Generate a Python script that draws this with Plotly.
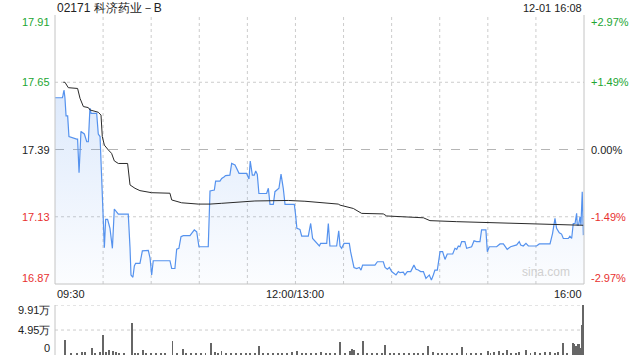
import plotly.graph_objects as go

# ---------------- data ----------------
title_text = "02171 科济药业－B"
date_text = "12-01 16:08"
prev_close = 17.39

price_min = [0, 4.6, 5.0, 5.6, 6.2, 6.9, 7.9, 8.7, 13.5, 14.1, 15.0, 16.2, 18.3, 19.8, 20.8, 21.8, 22.5, 26.0,
             27.0, 28.1, 30.8, 31.6, 32.8, 34.3, 35.8, 37.0, 39.5, 45.7, 46.8, 47.4, 48.6, 49.5, 50.3, 53.0,
             54.5, 58.2, 59.3, 60.3, 61.3, 71.7, 72.8, 74.8, 75.9, 77.3, 78.6, 80.0, 84.2, 86.9, 88.4, 89.8,
             95.6, 96.7, 99.4, 100.2, 102.9, 104.0, 105.6, 106.4, 109.1, 110.2, 112.3, 114.8, 119.5, 121.0,
             121.8, 123.1, 124.3, 125.2, 126.2, 127.2, 132.0, 133.1, 134.1, 136.2, 137.2, 138.9, 139.7, 141.0,
             142.4, 143.5, 149.3, 150.1, 150.9, 152.8, 153.9, 158.0, 159.5, 160.7, 163.2, 164.9, 165.7, 169.5,
             170.5, 171.5, 175.7, 177.0, 177.8, 178.8, 180.3, 183.6, 184.4, 186.5, 188.2, 189.8, 190.9, 191.9,
             199.6, 201.1, 204.8, 205.9, 207.3, 208.6, 210.0, 212.7, 214.2, 215.2, 217.3, 218.3, 219.8, 221.9,
             223.9, 225.2, 226.6, 228.1, 229.8, 231.4, 233.5, 234.8, 236.0, 237.0, 238.5, 240.2, 241.8, 243.3,
             244.7, 248.1, 249.5, 250.6, 251.6, 252.6, 253.7, 255.7, 256.8, 257.8, 259.9, 261.4, 263.0, 265.1,
             266.1, 268.8, 269.7, 270.9, 275.5, 277.6, 279.7, 282.1, 284.2, 288.0, 289.6, 290.5, 292.1, 293.8,
             295.3, 300.4, 302.1, 308.8, 310.4, 311.9, 312.9, 314.6, 316.0, 317.1, 320.2, 321.2, 322.3, 323.3,
             324.4, 325.4, 325.8, 326.6, 327.5, 328.1, 328.9, 329.6]
price_val = [17.59, 17.59, 17.60, 17.62, 17.59, 17.52, 17.52, 17.44, 17.43, 17.43, 17.30, 17.46, 17.45, 17.42,
             17.42, 17.55, 17.53, 17.53, 17.45, 17.44, 17.01, 17.12, 17.12, 17.085, 17.008, 17.16, 17.14, 17.14,
             17.01, 16.905, 16.896, 16.94, 16.95, 16.95, 16.998, 17.00, 16.97, 16.905, 16.96, 16.96, 16.93,
             16.93, 17.005, 17.008, 17.053, 17.057, 17.057, 17.079, 17.072, 17.014, 17.014, 17.23, 17.233,
             17.268, 17.268, 17.278, 17.285, 17.289, 17.291, 17.336, 17.33, 17.298, 17.298, 17.276, 17.345,
             17.291, 17.291, 17.307, 17.294, 17.22, 17.22, 17.24, 17.178, 17.178, 17.227, 17.237, 17.24, 17.295,
             17.24, 17.178, 17.178, 17.137, 17.085, 17.081, 17.055, 17.055, 17.104, 17.046, 17.030, 17.017,
             17.027, 17.027, 17.104, 17.017, 17.017, 17.076, 17.017, 17.008, 17.027, 17.027, 16.995, 16.934,
             16.93, 16.934, 16.924, 16.943, 16.943, 16.956, 16.956, 16.934, 16.927, 16.934, 16.918, 16.905,
             16.918, 16.914, 16.916, 16.905, 16.918, 16.918, 16.943, 16.927, 16.924, 16.918, 16.918, 16.892,
             16.905, 16.885, 16.905, 16.924, 16.924, 16.995, 16.995, 16.965, 16.986, 16.986, 17.008, 17.004,
             17.017, 17.014, 17.034, 17.034, 17.008, 17.01, 17.014, 17.037, 17.034, 17.034, 17.079, 17.079,
             16.995, 17.014, 17.014, 17.025, 17.025, 17.004, 17.014, 17.021, 17.034, 17.021, 17.017, 17.027,
             17.017, 17.017, 17.025, 17.025, 17.066, 17.124, 17.085, 17.068, 17.063, 17.046, 17.046, 17.055,
             17.046, 17.104, 17.104, 17.143, 17.098, 17.098, 17.13, 17.098, 17.227, 17.059]

avg_min = [5.2, 6.2, 8.3, 14.1, 15.6, 17.7, 20.8, 21.8, 27.0, 28.7, 29.5, 30.8, 33.3, 35.3, 37.0, 39.5, 45.3,
           46.8, 49.9, 53.0, 60.3, 71.7, 72.8, 79.0, 89.4, 96.7, 104.0, 116.4, 124.7, 145.5, 155.9, 176.7,
           177.8, 186.1, 191.3, 204.8, 206.9, 229.8, 233.9, 250.6, 271.3, 292.1, 312.9, 329.6]
avg_val = [17.65, 17.65, 17.629, 17.626, 17.588, 17.556, 17.552, 17.543, 17.534, 17.523, 17.44, 17.407,
           17.388, 17.375, 17.346, 17.336, 17.336, 17.253, 17.24, 17.231, 17.223, 17.221, 17.195, 17.184,
           17.179, 17.179, 17.182, 17.188, 17.191, 17.193, 17.19, 17.179, 17.175, 17.162, 17.143, 17.141,
           17.133, 17.126, 17.115, 17.111, 17.107, 17.104, 17.101, 17.097]

vol_min = [6.2, 10, 14, 17, 19, 23, 25, 28, 30, 32, 34, 36, 38, 40, 43, 47.8, 50, 52, 54.7, 57, 60, 63, 66, 69,
           73.4, 76, 79.7, 82, 85, 88, 91, 94, 97.7, 100, 102, 104, 107, 110, 113, 116, 119, 122, 125, 127.5,
           130, 133, 136, 139, 142, 145, 148, 151.4, 154, 157, 160, 163, 166, 169, 172, 175, 178.2, 181,
           184.4, 185.6, 187, 189, 192.3, 195, 198, 201, 204, 205.9, 209, 212, 215, 218, 221, 224, 227, 230,
           232.9, 236, 239, 242, 245, 248, 251, 254.3, 257, 260, 263, 266, 270.3, 272, 274, 277.2, 280,
           282.2, 285, 288, 290, 294.2, 297, 300, 303, 306, 309, 312, 314, 317.1, 320, 323.3, 324.4, 325.4,
           326.4, 327.4, 328.5, 329.2, 330]
vol_val = [2.9, 0.4, 0.3, 0.5, 0.5, 1.3, 0.4, 0.6, 3.9, 0.6, 0.9, 0.7, 0.5, 0.3, 0.3, 6.3, 0.4, 0.3, 1.0, 0.3,
           0.2, 0.3, 0.2, 0.3, 2.8, 0.3, 1.2, 0.3, 0.2, 0.3, 0.4, 0.3, 2.4, 0.6, 0.3, 0.8, 0.3, 0.3, 0.2,
           0.3, 0.2, 0.3, 0.2, 1.8, 0.4, 0.3, 0.3, 0.2, 0.4, 0.3, 0.5, 0.8, 0.3, 0.3, 0.2, 0.4, 0.5, 0.3,
           0.4, 0.3, 2.5, 0.3, 0.8, 1.2, 1.0, 0.4, 2.7, 0.3, 0.3, 0.4, 0.3, 2.0, 0.3, 0.2, 0.4, 0.3, 0.3,
           0.4, 0.3, 0.4, 1.8, 0.5, 0.3, 0.3, 0.4, 0.3, 0.3, 1.6, 0.3, 0.4, 0.3, 0.4, 0.8, 0.3, 0.5, 0.8,
           0.3, 1.0, 0.4, 0.3, 0.5, 1.0, 0.4, 0.5, 0.4, 0.6, 0.5, 0.4, 0.6, 2.3, 0.3, 2.3, 2.1, 1.8, 2.1,
           2.1, 1.4, 5.9, 9.91]

y_ticks = [17.91, 17.65, 17.39, 17.13, 16.87]
y_tick_text = ["17.91", "17.65", "17.39", "17.13", "16.87"]
pct_text = ["+2.97%", "+1.49%", "0.00%", "-1.49%", "-2.97%"]
x_grid = [30, 60, 90, 120, 150, 180, 210, 240, 270, 300]
x_labels = [(0, "09:30"), (150, "12:00/13:00"), (330, "16:00")]
vol_ticks = [9.91, 4.95, 0]
vol_tick_text = ["9.91万", "4.95万", "0"]

# ---------------- styles ----------------
GREEN = "#22a632"
RED = "#e8312f"
BLACK = "#222222"
GRID = "#cccccc"
BORDER = "#c4c4c4"
FONT = "Liberation Sans, Arial, sans-serif"

fig = go.Figure()

fig.add_trace(go.Scatter(
    x=price_min, y=price_val, mode="lines",
    line=dict(color="#5592ee", width=1.2),
    fill="tozeroy",
    fillgradient=dict(type="vertical",
                      colorscale=[[0, "rgba(85,146,238,0.02)"], [1, "rgba(85,146,238,0.20)"]],
                      start=16.87, stop=17.62),
    xaxis="x", yaxis="y", hoverinfo="skip"))

fig.add_trace(go.Scatter(
    x=avg_min, y=avg_val, mode="lines",
    line=dict(color="#2a2a2a", width=1),
    xaxis="x", yaxis="y", hoverinfo="skip"))

fig.add_trace(go.Bar(
    x=vol_min, y=vol_val, width=0.6,
    marker=dict(color="#666666", line=dict(width=0)),
    xaxis="x2", yaxis="y2", hoverinfo="skip"))

main_bottom = 0.2088
vol_top = 0.147

fig.update_layout(
    width=640, height=360,
    margin=dict(l=55, r=56, t=15, b=5),
    paper_bgcolor="white", plot_bgcolor="rgba(0,0,0,0)",
    showlegend=False,
    font=dict(family=FONT, size=11, color="#222"),
    xaxis=dict(domain=[0, 1], range=[0, 330], anchor="y", showgrid=False, zeroline=False,
               showticklabels=False, showline=False, fixedrange=True),
    yaxis=dict(domain=[main_bottom, 1], range=[16.87, 17.91], showgrid=False, zeroline=False,
               showticklabels=False, showline=False),
    xaxis2=dict(domain=[0, 1], range=[0, 330.4], anchor="y2", showgrid=False, zeroline=False,
                showticklabels=False, showline=False),
    yaxis2=dict(domain=[0, vol_top], range=[0, 9.91], showgrid=False, zeroline=False,
                showticklabels=False, showline=False),
    bargap=0,
)

shapes = []
# vertical grid in main panel
for gx in x_grid:
    shapes.append(dict(type="line", xref="x", yref="y domain", x0=gx, x1=gx, y0=0, y1=1,
                       line=dict(color=GRID, width=1, dash="dot"), layer="below"))
# horizontal grid in main panel
for v in y_ticks[1:-1]:
    if v == prev_close:
        shapes.append(dict(type="line", xref="x domain", yref="y", x0=0, x1=1, y0=v, y1=v,
                           line=dict(color="#b5b5b5", width=1, dash="dash"), layer="below"))
    else:
        shapes.append(dict(type="line", xref="x domain", yref="y", x0=0, x1=1, y0=v, y1=v,
                           line=dict(color=GRID, width=1, dash="dot"), layer="below"))
# borders main
shapes.append(dict(type="line", xref="x domain", yref="y domain", x0=0, x1=0, y0=0, y1=1,
                   line=dict(color=BORDER, width=1)))
shapes.append(dict(type="line", xref="x domain", yref="y domain", x0=1, x1=1, y0=0, y1=1,
                   line=dict(color=BORDER, width=1)))
shapes.append(dict(type="line", xref="x domain", yref="y domain", x0=0, x1=1, y0=0, y1=0,
                   line=dict(color=BORDER, width=1)))
# volume grid
for v in vol_ticks[:-1]:
    shapes.append(dict(type="line", xref="x2 domain", yref="y2", x0=0, x1=1, y0=v, y1=v,
                       line=dict(color=GRID, width=1, dash="dot"), layer="below"))
shapes.append(dict(type="line", xref="x2 domain", yref="y2 domain", x0=0, x1=0, y0=0, y1=1,
                   line=dict(color=BORDER, width=1)))
fig.update_layout(shapes=shapes)

ann = []
ann.append(dict(text=title_text, xref="paper", yref="paper", x=0, y=1, yshift=7, xanchor="left",
                yanchor="middle", showarrow=False, font=dict(size=12, color="#222")))
ann.append(dict(text=date_text, xref="paper", yref="paper", x=1, y=1, yshift=7, xanchor="right",
                yanchor="middle", showarrow=False, font=dict(size=11, color="#222")))
colors = [GREEN, GREEN, BLACK, RED, RED]
shifts = [-7, 0, 0, 0, 6]
for v, t, p, c, s in zip(y_ticks, y_tick_text, pct_text, colors, shifts):
    ann.append(dict(text=t, xref="paper", yref="y", x=0, y=v, xshift=-3, yshift=s, xanchor="right",
                    yanchor="middle", showarrow=False, font=dict(size=11, color=c)))
    ann.append(dict(text=p, xref="paper", yref="y", x=1, y=v, xshift=5, yshift=s, xanchor="left",
                    yanchor="middle", showarrow=False, font=dict(size=11, color=c)))
for xv, t in x_labels:
    anc = "left" if xv == 0 else ("right" if xv == 330 else "center")
    ann.append(dict(text=t, xref="x", yref="paper", x=xv, y=main_bottom, yshift=-2, xanchor=anc,
                    yanchor="top", showarrow=False, font=dict(size=11, color="#222")))
vshifts = [-5, 0, 7]
for v, t, s in zip(vol_ticks, vol_tick_text, vshifts):
    ann.append(dict(text=t, xref="paper", yref="y2", x=0, y=v, xshift=-3, yshift=s, xanchor="right",
                    yanchor="middle", showarrow=False, font=dict(size=11, color="#222")))
ann.append(dict(text="sina.com", xref="paper", yref="y", x=1, y=16.87, xshift=-12, yshift=3,
                xanchor="right", yanchor="bottom", showarrow=False,
                font=dict(size=12, color="#d0d0d0")))
fig.update_layout(annotations=ann)

fig.write_html("out.html")
